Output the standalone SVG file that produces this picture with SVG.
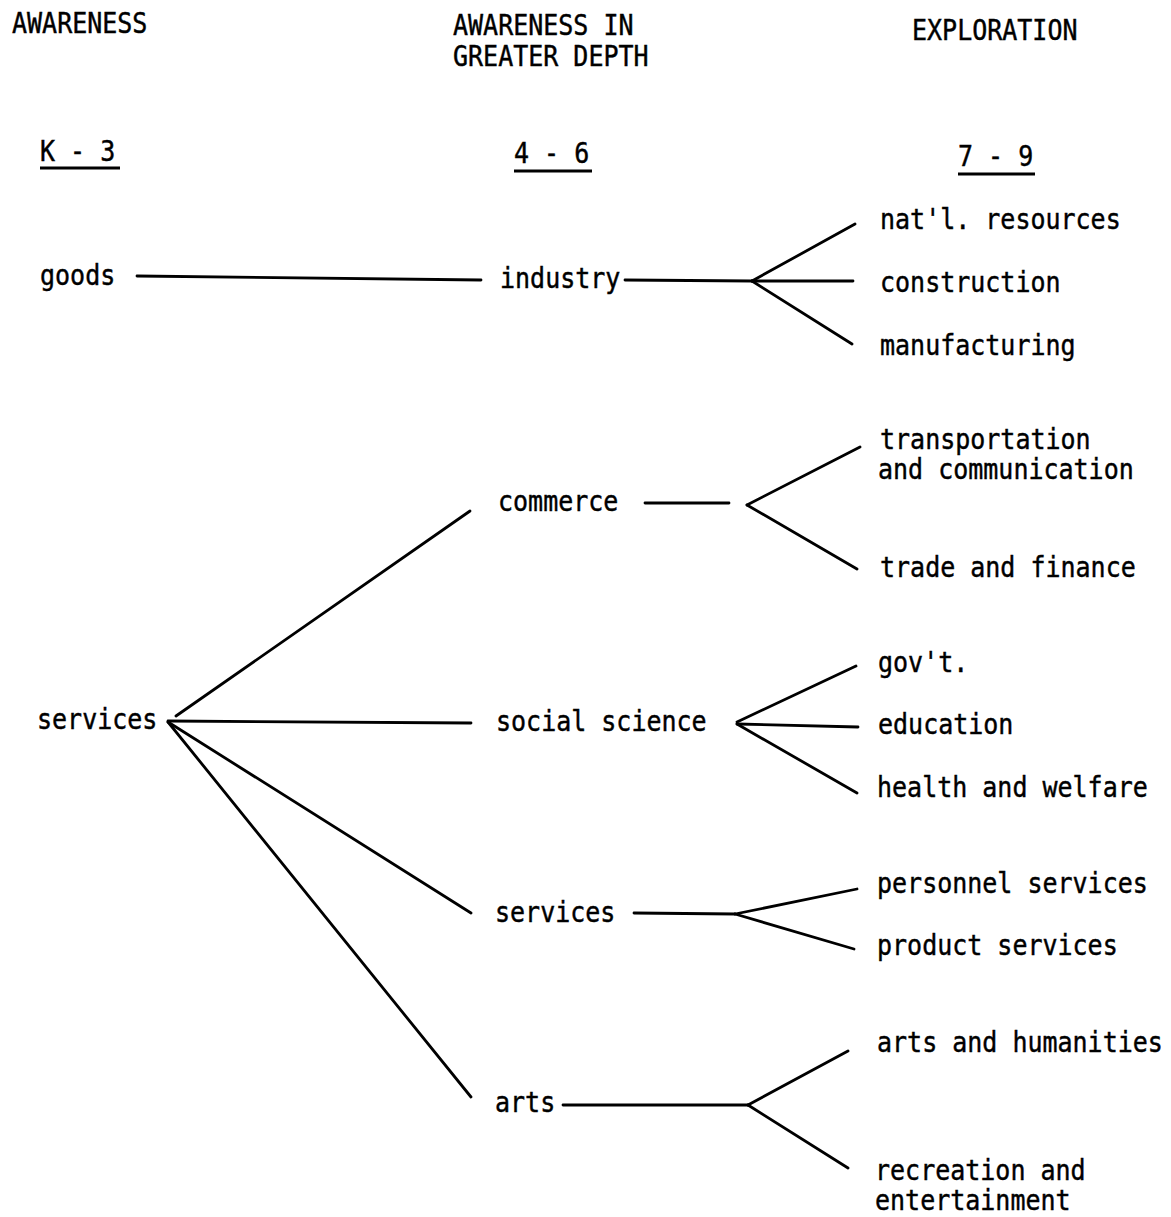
<svg xmlns="http://www.w3.org/2000/svg" width="1171" height="1217" viewBox="0 0 1171 1217">
<style>
  text { font-family: "DejaVu Sans Mono", "Liberation Mono", monospace; font-size: 25px; fill: #000; stroke: #000; stroke-width: 0.4; }
  .ln { stroke: #000; stroke-width: 2.8; stroke-linecap: round; fill: none; }
  .ul { stroke: #000; stroke-width: 2.8; fill: none; }
</style>
<rect width="1171" height="1217" fill="#fff"/>

<g id="headers">
  <text transform="translate(12 33) scale(1 1.1)">AWARENESS</text>
  <text transform="translate(453 35) scale(1 1.1)">AWARENESS IN</text>
  <text transform="translate(453 66) scale(1 1.1)">GREATER DEPTH</text>
  <text transform="translate(912 40) scale(1 1.1)">EXPLORATION</text>
  <text transform="translate(40 161) scale(1 1.1)">K - 3</text>
  <line class="ul" x1="40" y1="168" x2="120" y2="168"/>
  <text transform="translate(514 163) scale(1 1.1)">4 - 6</text>
  <line class="ul" x1="514" y1="171" x2="592" y2="171"/>
  <text transform="translate(958 166) scale(1 1.1)">7 - 9</text>
  <line class="ul" x1="958" y1="174" x2="1035" y2="174"/>
</g>

<g id="connectors">
  <line class="ln" x1="137" y1="276" x2="481" y2="280"/>
  <line class="ln" x1="625" y1="280" x2="752" y2="281"/>
  <line class="ln" x1="752" y1="281" x2="855" y2="224"/>
  <line class="ln" x1="752" y1="281" x2="853" y2="281"/>
  <line class="ln" x1="752" y1="281" x2="852" y2="344"/>

  <line class="ln" x1="176" y1="716" x2="470" y2="511"/>
  <line class="ln" x1="168" y1="721" x2="471" y2="723"/>
  <line class="ln" x1="168" y1="722" x2="471" y2="913"/>
  <line class="ln" x1="168" y1="722" x2="471" y2="1097"/>

  <line class="ln" x1="645" y1="503" x2="729" y2="503"/>
  <line class="ln" x1="747" y1="505" x2="860" y2="447"/>
  <line class="ln" x1="747" y1="505" x2="857" y2="569"/>

  <line class="ln" x1="737" y1="722" x2="856" y2="666"/>
  <line class="ln" x1="737" y1="724" x2="858" y2="727"/>
  <line class="ln" x1="737" y1="724" x2="857" y2="793"/>

  <line class="ln" x1="634" y1="913" x2="735" y2="914"/>
  <line class="ln" x1="735" y1="914" x2="857" y2="889"/>
  <line class="ln" x1="735" y1="914" x2="854" y2="949"/>

  <line class="ln" x1="563" y1="1105" x2="748" y2="1105"/>
  <line class="ln" x1="748" y1="1105" x2="848" y2="1051"/>
  <line class="ln" x1="748" y1="1105" x2="848" y2="1168"/>
</g>

<g id="node-goods"><text transform="translate(40 285) scale(1 1.1)">goods</text></g>
<g id="node-services-k3"><text transform="translate(37 729) scale(1 1.1)">services</text></g>

<g id="node-industry"><text transform="translate(500 288) scale(1 1.1)">industry</text></g>
<g id="node-commerce"><text transform="translate(498 511) scale(1 1.1)">commerce</text></g>
<g id="node-social-science"><text transform="translate(496 731) scale(1 1.1)">social science</text></g>
<g id="node-services-46"><text transform="translate(495 922) scale(1 1.1)">services</text></g>
<g id="node-arts"><text transform="translate(495 1112) scale(1 1.1)">arts</text></g>

<g id="node-natl-resources"><text transform="translate(880 229) scale(1 1.1)">nat'l. resources</text></g>
<g id="node-construction"><text transform="translate(880 292) scale(1 1.1)">construction</text></g>
<g id="node-manufacturing"><text transform="translate(880 355) scale(1 1.1)">manufacturing</text></g>
<g id="node-transportation">
  <text transform="translate(880 449) scale(1 1.1)">transportation</text>
  <text transform="translate(878 479) scale(1 1.1)">and communication</text>
</g>
<g id="node-trade"><text transform="translate(880 577) scale(1 1.1)">trade and finance</text></g>
<g id="node-govt"><text transform="translate(878 672) scale(1 1.1)">gov't.</text></g>
<g id="node-education"><text transform="translate(878 734) scale(1 1.1)">education</text></g>
<g id="node-health"><text transform="translate(877 797) scale(1 1.1)">health and welfare</text></g>
<g id="node-personnel"><text transform="translate(877 893) scale(1 1.1)">personnel services</text></g>
<g id="node-product"><text transform="translate(877 955) scale(1 1.1)">product services</text></g>
<g id="node-arts-humanities"><text transform="translate(877 1052) scale(1 1.1)">arts and humanities</text></g>
<g id="node-recreation">
  <text transform="translate(875 1180) scale(1 1.1)">recreation and</text>
  <text transform="translate(875 1210) scale(1 1.1)">entertainment</text>
</g>
</svg>
